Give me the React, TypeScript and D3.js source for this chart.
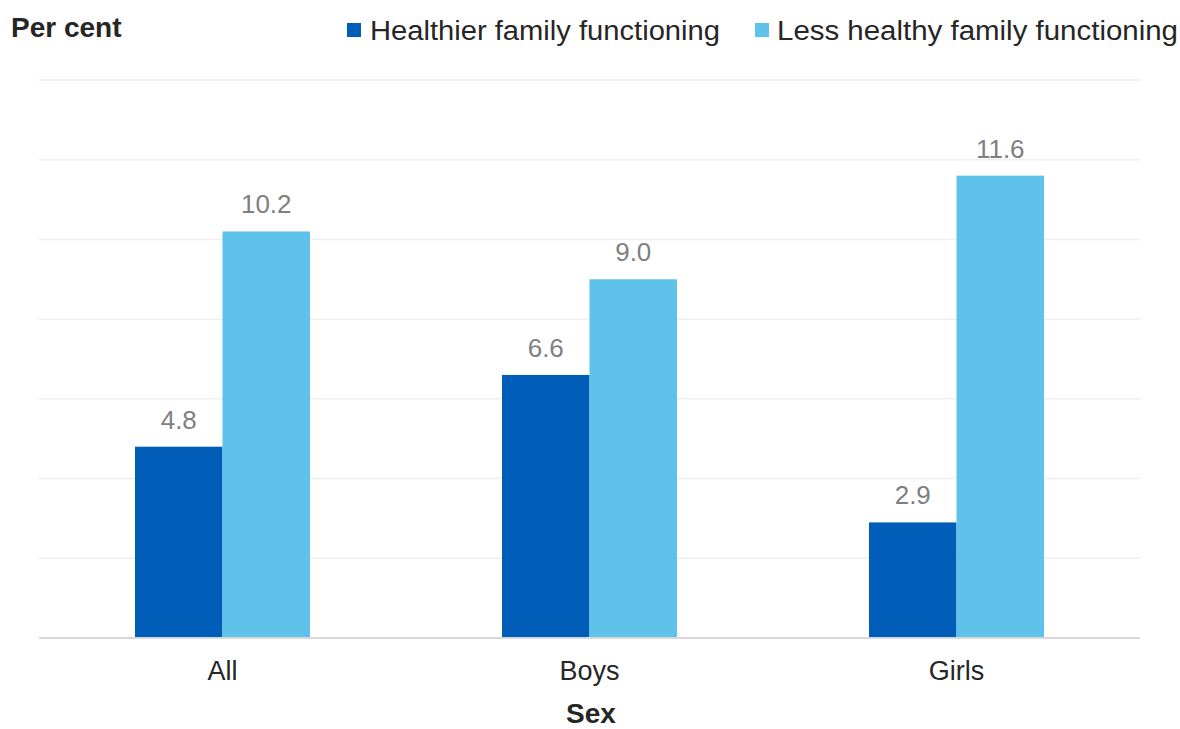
import React from "react";
import * as d3 from "d3";

const categories = ["All", "Boys", "Girls"];
const seriesNames = ["Healthier family functioning", "Less healthy family functioning"];
const healthier = [4.8, 6.6, 2.9];
const lessHealthy = [10.2, 9.0, 11.6];
const yTicks = [0, 2, 4, 6, 8, 10, 12, 14];
const colors = ["#005EB8", "#5FC2EA"];

export default function App() {
  const W = 1180, H = 729;
  const left = 39, right = 1140, top = 80, bottom = 638;
  const x = d3.scaleBand<string>().domain(categories).range([left, right]).paddingInner(0).paddingOuter(0);
  const y = d3.scaleLinear().domain([0, 14]).range([bottom, top]);
  const groupW = 175;
  const inner = d3.scaleBand<number>().domain([0, 1]).range([0, groupW]);
  const series = [healthier, lessHealthy];
  const font = "'Liberation Sans', Arial, sans-serif";

  return (
    <svg width={W} height={H} style={{ position: "absolute", left: 0, top: 0, fontFamily: font }}>
      <rect width={W} height={H} fill="#fff" />
      {yTicks.filter((t) => t > 0).map((t) => (
        <line key={t} x1={left} x2={right} y1={y(t)} y2={y(t)} stroke="#efefef" strokeWidth={1.5} />
      ))}
      {series.map((vals, si) =>
        categories.map((c, ci) => {
          const cx = (x(c) as number) + x.bandwidth() / 2 - groupW / 2 + (inner(si) as number);
          return (
            <g key={`${si}-${ci}`}>
              <rect x={cx} y={y(vals[ci])} width={inner.bandwidth()} height={bottom - y(vals[ci])} fill={colors[si]} />
              <text x={cx + inner.bandwidth() / 2} y={y(vals[ci]) - 18} textAnchor="middle" fontSize={26} fill="#7f7f7f">
                {vals[ci].toFixed(1)}
              </text>
            </g>
          );
        })
      )}
      <line x1={left} x2={right} y1={bottom} y2={bottom} stroke="#d9d9d9" strokeWidth={2} />
      {categories.map((c) => (
        <text key={c} x={(x(c) as number) + x.bandwidth() / 2} y={680} textAnchor="middle" fontSize={27} fill="#262626">
          {c}
        </text>
      ))}
      <text x={591} y={723} textAnchor="middle" fontSize={28} fontWeight="bold" fill="#262626">Sex</text>
      <text x={11} y={37} fontSize={28} fontWeight="bold" fill="#262626">Per cent</text>
      <rect x={347} y={23} width={14} height={14} fill={colors[0]} />
      <text x={370} y={40} fontSize={27} fill="#262626" textLength={350} lengthAdjust="spacingAndGlyphs">{seriesNames[0]}</text>
      <rect x={755} y={23} width={14} height={14} fill={colors[1]} />
      <text x={777} y={40} fontSize={27} fill="#262626" textLength={401} lengthAdjust="spacingAndGlyphs">{seriesNames[1]}</text>
    </svg>
  );
}
